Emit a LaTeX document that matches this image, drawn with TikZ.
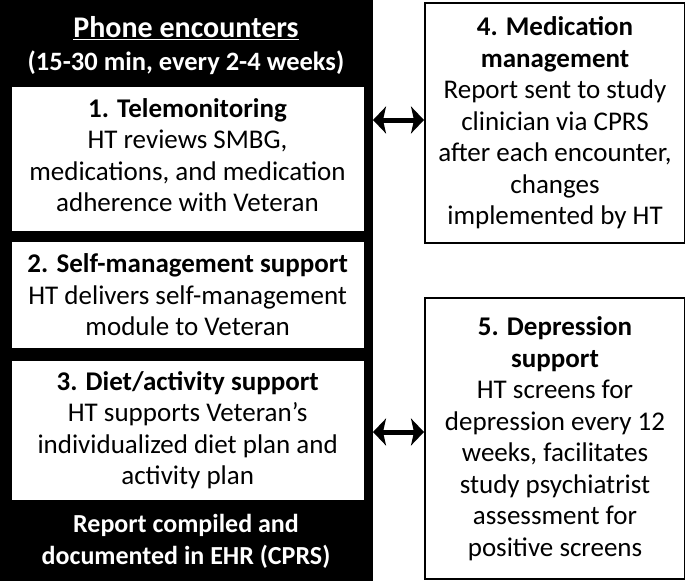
\documentclass[tikz,border=0pt]{standalone}
\usepackage{fontspec}
\setmainfont{Carlito}
\usetikzlibrary{arrows.meta}
\tikzset{
  txt/.style={font=\fontsize{27}{31.5}\selectfont, align=center, inner sep=0pt},
  inbox/.style={draw=white, fill=white, inner sep=0pt, anchor=north west},
  outbox/.style={draw=black, line width=2pt, fill=white, inner sep=0pt, anchor=north west},
  dblarrow/.style={{Stealth[length=13pt,width=27pt,inset=3pt]}-{Stealth[length=13pt,width=27pt,inset=3pt]}, line width=5pt}
}
\begin{document}
\begin{tikzpicture}[x=1pt,y=-1pt]
\useasboundingbox (0,0) rectangle (685,581);
\node[fill=black, inner sep=0pt, minimum width=373pt, minimum height=581pt, anchor=north west] (phone) at (0,0) {};
\node[txt, text=white, font=\fontsize{30}{31}\selectfont\bfseries] (title) at (186,28) {\underline{Phone encounters}};
\node[txt, text=white, font=\fontsize{26.5}{31}\selectfont\bfseries] (sub) at (186,63) {(15-30 min, every 2-4 weeks)};
\node[inbox, minimum width=351pt, minimum height=143pt] (b1) at (12,87) {};
\node[txt] (t1) at (187.5,155) {\textbf{1. Telemonitoring}\\HT reviews SMBG,\\medications, and medication\\adherence with Veteran};
\node[inbox, minimum width=351pt, minimum height=105pt] (b2) at (12,242) {};
\node[txt] (t2) at (b2.center) {\textbf{2. Self-management support}\\HT delivers self-management\\module to Veteran};
\node[inbox, minimum width=351pt, minimum height=138pt] (b3) at (12,361) {};
\node[txt] (t3) at (b3.center) {\textbf{3. Diet/activity support}\\HT supports Veteran’s\\individualized diet plan and\\activity plan};
\node[txt, text=white, font=\fontsize{26}{32}\selectfont\bfseries] (rep) at (186,541) {Report compiled and\\documented in EHR (CPRS)};
\node[outbox, minimum width=260pt, minimum height=240pt] (b4) at (424,2) {};
\node[txt] (t4) at (b4.center) {\textbf{4. Medication}\\\textbf{management}\\Report sent to study\\clinician via CPRS\\after each encounter,\\changes\\implemented by HT};
\node[outbox, minimum width=260pt, minimum height=281pt] (b5) at (424,297) {};
\node[txt] (t5) at (b5.center) {\textbf{5. Depression}\\\textbf{support}\\HT screens for\\depression every 12\\weeks, facilitates\\study psychiatrist\\assessment for\\positive screens};
\coordinate (a1) at (373,120);
\coordinate (a2) at (373,432);
\draw[dblarrow] (a1) -- (a1 -| b4.west);
\draw[dblarrow] (a2) -- (a2 -| b5.west);
\end{tikzpicture}
\end{document}
